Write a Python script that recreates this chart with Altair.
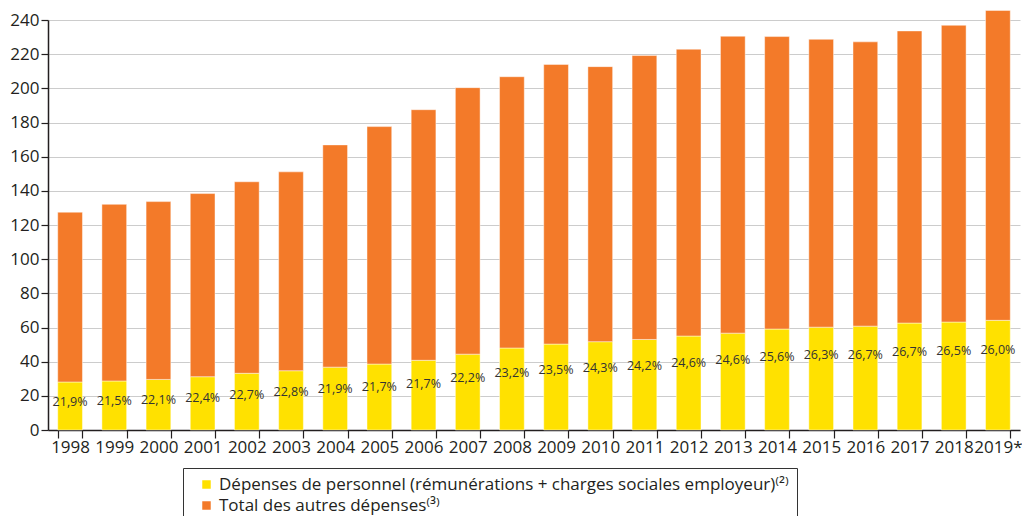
import altair as alt
import pandas as pd

# ---- data (billions of euros) ----
years = ["1998", "1999", "2000", "2001", "2002", "2003", "2004", "2005", "2006",
         "2007", "2008", "2009", "2010", "2011", "2012", "2013", "2014", "2015",
         "2016", "2017", "2018", "2019*"]
total = [127.5, 132.1, 133.7, 138.4, 145.3, 151.1, 166.9, 177.6, 187.5, 200.4,
         206.8, 214.0, 212.7, 219.2, 222.9, 230.5, 230.3, 228.7, 227.2, 233.6,
         236.9, 245.6]
personnel = [28.1, 28.7, 29.6, 31.2, 33.2, 34.7, 36.8, 38.6, 40.8, 44.4, 48.0,
             50.3, 51.7, 53.0, 55.0, 56.7, 59.1, 60.2, 60.8, 62.6, 63.2, 64.2]
shares = ["21,9%", "21,5%", "22,1%", "22,4%", "22,7%", "22,8%", "21,9%", "21,7%",
          "21,7%", "22,2%", "23,2%", "23,5%", "24,3%", "24,2%", "24,6%", "24,6%",
          "25,6%", "26,3%", "26,7%", "26,7%", "26,5%", "26,0%"]
y_ticks = [0, 20, 40, 60, 80, 100, 120, 140, 160, 180, 200, 220, 240]

SER_P = "Dépenses de personnel (rémunérations + charges sociales employeur)⁽²⁾"
SER_A = "Total des autres dépenses⁽³⁾"
UNIT = "(en milliards d'euros)"

YELLOW = "#FFE100"
ORANGE = "#F37A29"
INK = "#231f20"
FONT = "Open Sans"

rows = []
for y, t, p in zip(years, total, personnel):
    rows.append({"year": y, "serie": SER_P, "value": p, "ord": 0})
    rows.append({"year": y, "serie": SER_A, "value": round(t - p, 2), "ord": 1})
long_df = pd.DataFrame(rows)
lab_df = pd.DataFrame({"year": years, "personnel": personnel, "share": shares})

x_scale = alt.Scale(paddingInner=0.44, paddingOuter=0.22)
y_scale = alt.Scale(domain=[0, 240], nice=False)

x_axis = alt.Axis(title=None, labelAngle=0, tickBand="extent", tickSize=8,
                  tickColor=INK, domainColor=INK, domainWidth=1.5, tickWidth=1.2,
                  labelFontSize=17, labelFont=FONT, labelColor=INK,
                  labelPadding=1, grid=False, labelOverlap=False)
y_axis = alt.Axis(values=y_ticks, grid=True, gridColor="#cccccc", gridWidth=1,
                  domainColor=INK, domainWidth=1.5, tickColor=INK,
                  tickSize=7, tickWidth=1.2, labelFontSize=17,
                  labelFont=FONT, labelColor=INK, labelPadding=2,
                  labelOverlap=False, title=None)

bars = alt.Chart(long_df).mark_bar(
    stroke="#ffffff", strokeOpacity=0.45, strokeWidth=1
).encode(
    x=alt.X("year:N", sort=years, scale=x_scale, axis=x_axis),
    y=alt.Y("value:Q", stack="zero", scale=y_scale, axis=y_axis),
    color=alt.Color("serie:N",
                    scale=alt.Scale(domain=[SER_P, SER_A], range=[YELLOW, ORANGE]),
                    legend=alt.Legend(title=None, orient="none", legendX=135,
                                      legendY=448, direction="vertical",
                                      symbolType="square", symbolSize=72,
                                      symbolStrokeWidth=0, labelFontSize=17,
                                      labelFont=FONT, labelColor=INK,
                                      labelLimit=1000, strokeColor="#333333",
                                      fillColor="white", padding=8, rowPadding=3,
                                      symbolOffset=7, labelOffset=4)),
    order=alt.Order("ord:Q"),
)

labels = alt.Chart(lab_df).transform_calculate(
    ypos="0.85 * datum.personnel - 7.5"
).mark_text(fontSize=12.5, font=FONT, color="#333333").encode(
    x=alt.X("year:N", sort=years, scale=x_scale, axis=x_axis),
    y=alt.Y("ypos:Q", scale=y_scale, axis=y_axis),
    text="share:N",
)

unit = alt.Chart(pd.DataFrame({"t": [UNIT]})).mark_text(
    align="left", baseline="alphabetic", fontSize=17, font=FONT, color=INK
).encode(x=alt.value(-40), y=alt.value(-15), text="t:N")

chart = alt.layer(bars, labels, unit).properties(
    width=972, height=410,
    autosize=alt.AutoSizeParams(type="none"),
    padding={"left": 40, "top": 12, "right": 2, "bottom": 86},
).configure_view(stroke=None)

chart.save("out.html", embed_options={"renderer": "svg", "actions": False})
